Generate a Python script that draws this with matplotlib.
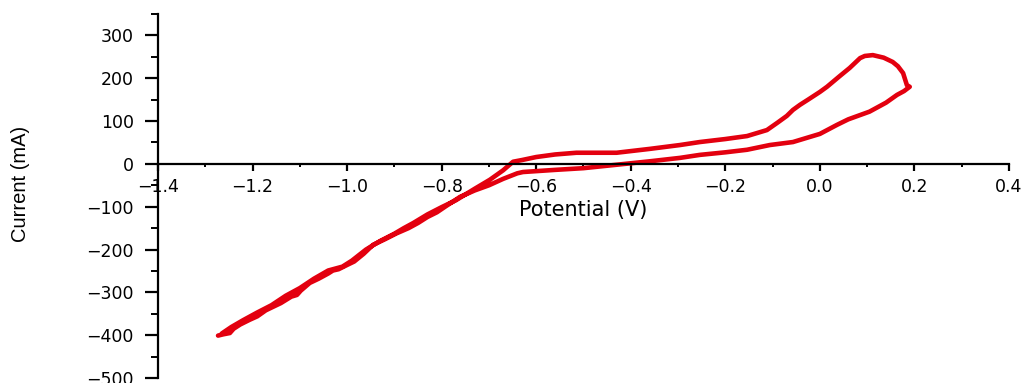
import matplotlib
matplotlib.use("Agg")
import matplotlib.pyplot as plt
from matplotlib.ticker import MultipleLocator

# Cyclic voltammogram (closed loop, ordered along the scan)
potential_v = [
    -1.273, -1.262, -1.248, -1.240, -1.226, -1.206, -1.190, -1.172, -1.157, -1.140,
    -1.118, -1.106, -1.098, -1.079, -1.060, -1.040, -1.030, -1.018, -1.000, -0.985,
    -0.965, -0.945, -0.920, -0.895, -0.870, -0.850, -0.830, -0.810, -0.790, -0.761,
    -0.730, -0.700, -0.670, -0.640, -0.628, -0.560, -0.500, -0.430, -0.360, -0.296,
    -0.254, -0.200, -0.154, -0.106, -0.057, 0.000, 0.036, 0.060, 0.085, 0.105,
    0.120, 0.140, 0.163, 0.178, 0.190, 0.184, 0.176, 0.165, 0.154, 0.135,
    0.112, 0.095, 0.085, 0.063, 0.042, 0.015, 0.000, -0.025, -0.042, -0.057,
    -0.070, -0.090, -0.112, -0.154, -0.200, -0.254, -0.296, -0.360, -0.430, -0.515,
    -0.560, -0.600, -0.630, -0.649, -0.670, -0.698, -0.730, -0.770, -0.800, -0.830,
    -0.860, -0.880, -0.900, -0.930, -0.960, -0.990, -1.010, -1.040, -1.070, -1.100,
    -1.130, -1.160, -1.190, -1.220, -1.245, -1.265,
]
current_ma = [
    -401, -398, -395, -385, -375, -364, -356, -342, -334, -325,
    -310, -306, -296, -278, -268, -256, -249, -246, -236, -228,
    -210, -189, -176, -162, -150, -138, -124, -113, -98, -77,
    -62, -50, -35, -22, -19, -14, -10, -2, 6, 14,
    21, 27, 33, 44, 51, 70, 91, 104, 114, 122,
    131, 143, 161, 170, 180, 184, 212, 228, 238, 248,
    254, 252, 247, 224, 205, 180, 168, 150, 138, 126,
    112, 96, 79, 65, 58, 51, 44, 35, 26, 26,
    22, 16, 9, 5, -15, -37, -58, -85, -101, -118,
    -138, -150, -163, -180, -200, -226, -240, -249, -268, -290,
    -308, -330, -347, -365, -381, -396,
]

x_ticks = [-1.4, -1.2, -1.0, -0.8, -0.6, -0.4, -0.2, 0.0, 0.2, 0.4]
y_ticks = [-500, -400, -300, -200, -100, 0, 100, 200, 300]
x_label = "Potential (V)"
y_label = "Current (mA)"

plt.rcParams["font.family"] = ["DejaVu Sans"]

fig = plt.figure(figsize=(10.31, 3.83), dpi=100)
ax = fig.add_axes([158 / 1031, 1 - 378 / 383, (1009 - 158) / 1031, (378 - 14) / 383])

ax.plot(potential_v, current_ma, color="#e3000f", linewidth=3.3,
        solid_joinstyle="round", solid_capstyle="round")

ax.set_xlim(-1.4, 0.4)
ax.set_ylim(-500, 350)

ax.spines["top"].set_visible(False)
ax.spines["right"].set_visible(False)
ax.spines["bottom"].set_position(("data", 0))
for s in ("left", "bottom"):
    ax.spines[s].set_linewidth(1.6)
    ax.spines[s].set_color("black")

ax.set_xticks(x_ticks)
ax.set_xticklabels([f"{v:.1f}".replace("-", "\u2212") for v in x_ticks])
ax.set_yticks(y_ticks)
ax.set_yticklabels([f"{v:d}".replace("-", "\u2212") for v in y_ticks])
ax.xaxis.set_minor_locator(MultipleLocator(0.1))
ax.yaxis.set_minor_locator(MultipleLocator(50))

ax.tick_params(axis="x", which="major", direction="out", length=5, width=1.6,
               labelsize=12.5, pad=5)
ax.tick_params(axis="x", which="minor", direction="out", length=2.5, width=1.4)
ax.tick_params(axis="y", which="major", direction="out", length=9.5, width=1.6,
               labelsize=12.5, pad=8)
ax.tick_params(axis="y", which="minor", direction="out", length=5, width=1.4)

ax.set_xlabel(x_label, fontsize=15)
ax.xaxis.set_label_coords(0.5, 0.4615)
ax.xaxis.label.set_verticalalignment("center")

ax.set_ylabel(y_label, fontsize=14.5,
              family=["Liberation Sans Narrow", "Liberation Sans", "DejaVu Sans"])
ax.yaxis.set_label_coords(-0.161, 0.533)
ax.yaxis.label.set_verticalalignment("center")

fig.savefig("out.png", dpi=100)
